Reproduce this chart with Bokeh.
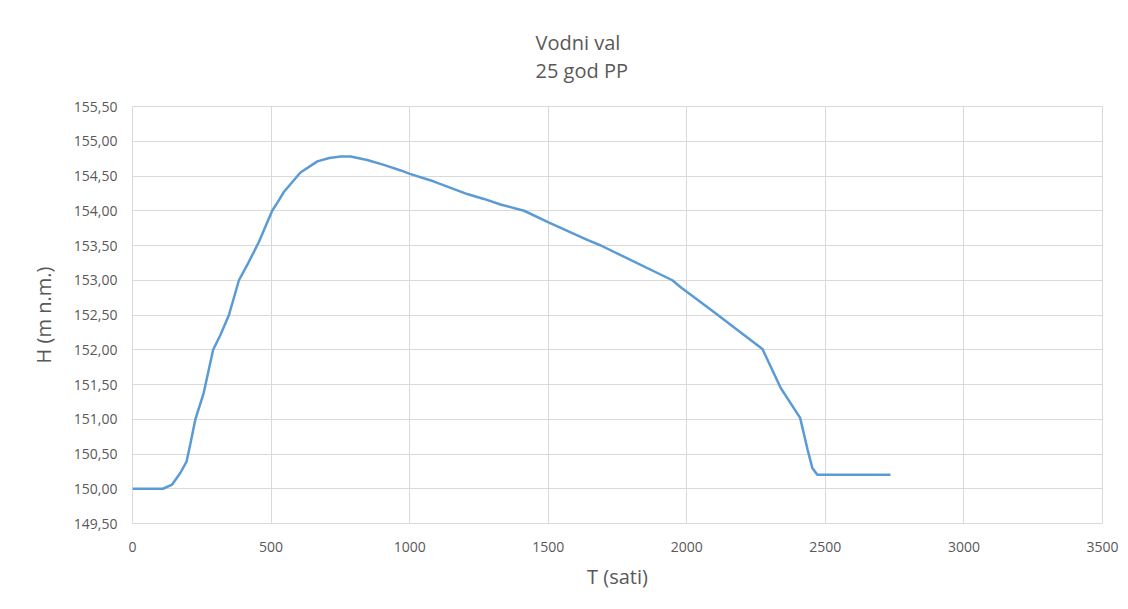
from bokeh.plotting import figure
from bokeh.models import FixedTicker, CustomJSTickFormatter, Range1d, Title
from bokeh.embed import file_html
from bokeh.resources import INLINE

# Data
t_hours = [0, 110, 143, 173, 195, 209, 227, 257, 291, 318, 348, 384, 414, 456,
           504, 528, 546, 606, 667, 710, 751, 787, 847, 907, 968, 1001, 1088,
           1148, 1208, 1268, 1328, 1413, 1503, 1641, 1690, 1948, 1978, 2099,
           2171, 2273, 2339, 2409, 2436, 2453, 2471, 2520, 2735]
h_level = [150.00, 150.00, 150.06, 150.23, 150.39, 150.65, 151.00, 151.38,
           152.00, 152.22, 152.50, 153.00, 153.22, 153.55, 154.00, 154.15,
           154.27, 154.55, 154.71, 154.76, 154.78, 154.78, 154.73, 154.66,
           154.58, 154.53, 154.42, 154.33, 154.24, 154.17, 154.09, 154.00,
           153.83, 153.58, 153.50, 153.00, 152.90, 152.54, 152.32, 152.01,
           151.45, 151.02, 150.56, 150.30, 150.20, 150.20, 150.20]

x_ticks = [0, 500, 1000, 1500, 2000, 2500, 3000, 3500]
y_ticks = [149.5, 150.0, 150.5, 151.0, 151.5, 152.0, 152.5, 153.0, 153.5,
           154.0, 154.5, 155.0, 155.5]

title_lines = ["Vodni val", "25 god PP"]
x_label = "T (sati)"
y_label = "H (m n.m.)"

FONT = "Open Sans"
TXT = "#595959"
GRID = "#d9d9d9"

p = figure(output_backend="svg", toolbar_location=None,
           frame_width=970, frame_height=417,
           min_border_left=132, min_border_right=18,
           min_border_top=106, min_border_bottom=84,
           x_range=Range1d(0, 3500), y_range=Range1d(149.5, 155.5),
           background_fill_color="white", border_fill_color="white")

p.outline_line_color = GRID
p.outline_line_width = 1

p.line(t_hours, h_level, line_color="#5B9BD5", line_width=2.5)

for ax in (p.xaxis[0], p.yaxis[0]):
    ax.axis_line_color = None
    ax.major_tick_line_color = None
    ax.minor_tick_line_color = None
    ax.major_tick_out = 0
    ax.major_tick_in = 0
    ax.minor_tick_out = 0
    ax.minor_tick_in = 0
    ax.major_label_text_font = FONT
    ax.major_label_text_font_size = "14px"
    ax.major_label_text_color = TXT
    ax.axis_label_text_font = FONT
    ax.axis_label_text_font_size = "20px"
    ax.axis_label_text_font_style = "normal"
    ax.axis_label_text_color = TXT

p.xaxis[0].ticker = FixedTicker(ticks=x_ticks)
p.yaxis[0].ticker = FixedTicker(ticks=y_ticks)
p.yaxis[0].formatter = CustomJSTickFormatter(
    code="return tick.toFixed(2).replace('.', ',');")
p.xaxis[0].axis_label = x_label
p.yaxis[0].axis_label = y_label
p.xaxis[0].major_label_standoff = 18
p.yaxis[0].major_label_standoff = 15
p.xaxis[0].axis_label_standoff = 8
p.yaxis[0].axis_label_standoff = 14

p.xgrid[0].grid_line_color = GRID
p.ygrid[0].grid_line_color = GRID
p.xgrid[0].ticker = FixedTicker(ticks=x_ticks)
p.ygrid[0].ticker = FixedTicker(ticks=y_ticks)

p.add_layout(Title(text="\n".join(title_lines), align="left", offset=403,
                   standoff=44, text_line_height=1.05,
                   text_font=FONT, text_font_size="20px",
                   text_font_style="normal", text_color=TXT), "above")

open("out.html", "w").write(file_html(p, INLINE))
